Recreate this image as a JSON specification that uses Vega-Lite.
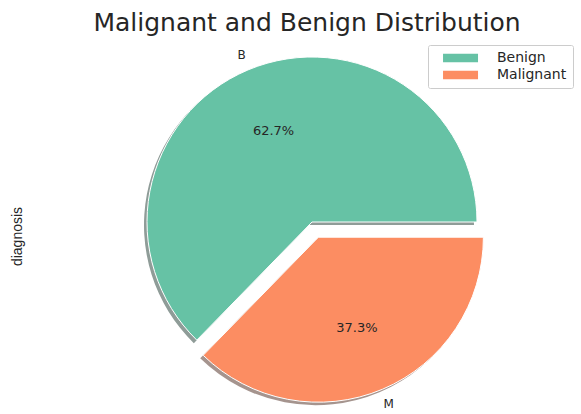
{
  "$schema": "https://vega.github.io/schema/vega-lite/v6.json",
  "autosize": "none",
  "width": 540,
  "height": 330,
  "padding": {"left": 42, "top": 57, "right": 0, "bottom": 27},
  "background": "white",
  "title": {
    "text": "Malignant and Benign Distribution",
    "font": "DejaVu Sans",
    "fontSize": 25,
    "fontWeight": "normal",
    "color": "#262626",
    "anchor": "middle",
    "frame": "group",
    "dx": -5,
    "offset": 9
  },
  "data": {
    "values": [
      {"diagnosis": "B", "share": 0.627},
      {"diagnosis": "M", "share": 0.373}
    ]
  },
  "layer": [
    {
      "mark": {"type": "arc", "outerRadius": 165, "xOffset": -3, "yOffset": 3, "fill": "#8f9c98"},
      "encoding": {
        "theta": {"field": "share", "type": "quantitative", "stack": true, "scale": {"range": [1.5708, 7.854]}},
        "order": {"field": "diagnosis", "sort": "descending"},
        "opacity": {"condition": {"test": "datum.diagnosis === 'B'", "value": 1}, "value": 0}
      }
    },
    {
      "mark": {"type": "arc", "outerRadius": 165, "xOffset": 3.4, "yOffset": 18.2, "fill": "#a5948e"},
      "encoding": {
        "theta": {"field": "share", "type": "quantitative", "stack": true, "scale": {"range": [1.5708, 7.854]}},
        "order": {"field": "diagnosis", "sort": "descending"},
        "opacity": {"condition": {"test": "datum.diagnosis === 'M'", "value": 1}, "value": 0}
      }
    },
    {
      "mark": {"type": "arc", "outerRadius": 165, "stroke": "white", "strokeWidth": 1},
      "encoding": {
        "theta": {"field": "share", "type": "quantitative", "stack": true, "scale": {"range": [1.5708, 7.854]}},
        "order": {"field": "diagnosis", "sort": "descending"},
        "color": {
          "field": "diagnosis",
          "type": "nominal",
          "scale": {"domain": ["B", "M"], "range": ["#66c2a5", "#fc8d62"]},
          "legend": {
            "title": null,
            "orient": "none",
            "legendX": 386,
            "legendY": -12,
            "labelExpr": "datum.label === 'B' ? 'Benign' : 'Malignant'",
            "symbolType": "M0.29,-0.6H5.29V0.6H0.29Z",
            "symbolSize": 196,
            "symbolStrokeWidth": 0,
            "symbolOpacity": 1,
            "labelFont": "DejaVu Sans",
            "labelFontSize": 14,
            "labelColor": "#262626",
            "labelOffset": 49,
            "rowPadding": 3,
            "padding": 6,
            "strokeColor": "#cccccc",
            "fillColor": "white",
            "cornerRadius": 2
          }
        },
        "opacity": {"condition": {"test": "datum.diagnosis === 'B'", "value": 1}, "value": 0}
      }
    },
    {
      "mark": {"type": "arc", "outerRadius": 165, "stroke": "white", "strokeWidth": 1, "xOffset": 6.4, "yOffset": 15.2},
      "encoding": {
        "theta": {"field": "share", "type": "quantitative", "stack": true, "scale": {"range": [1.5708, 7.854]}},
        "order": {"field": "diagnosis", "sort": "descending"},
        "color": {"field": "diagnosis", "type": "nominal"},
        "opacity": {"condition": {"test": "datum.diagnosis === 'M'", "value": 1}, "value": 0}
      }
    },
    {
      "mark": {"type": "text", "radius": 99, "font": "DejaVu Sans", "fontSize": 13, "color": "#262626"},
      "encoding": {
        "theta": {"field": "share", "type": "quantitative", "stack": true, "scale": {"range": [1.5708, 7.854]}},
        "order": {"field": "diagnosis", "sort": "descending"},
        "text": {"field": "share", "type": "quantitative", "format": ".1%"},
        "opacity": {"condition": {"test": "datum.diagnosis === 'B'", "value": 1}, "value": 0}
      }
    },
    {
      "mark": {"type": "text", "radius": 99, "font": "DejaVu Sans", "fontSize": 13, "color": "#262626", "xOffset": 6.4, "yOffset": 15.2},
      "encoding": {
        "theta": {"field": "share", "type": "quantitative", "stack": true, "scale": {"range": [1.5708, 7.854]}},
        "order": {"field": "diagnosis", "sort": "descending"},
        "text": {"field": "share", "type": "quantitative", "format": ".1%"},
        "opacity": {"condition": {"test": "datum.diagnosis === 'M'", "value": 1}, "value": 0}
      }
    },
    {
      "mark": {"type": "text", "radius": 181, "font": "DejaVu Sans", "fontSize": 12, "color": "#262626"},
      "encoding": {
        "theta": {"field": "share", "type": "quantitative", "stack": true, "scale": {"range": [1.5708, 7.854]}},
        "order": {"field": "diagnosis", "sort": "descending"},
        "text": {"field": "diagnosis", "type": "nominal"},
        "opacity": {"condition": {"test": "datum.diagnosis === 'B'", "value": 1}, "value": 0}
      }
    },
    {
      "mark": {"type": "text", "radius": 181, "font": "DejaVu Sans", "fontSize": 12, "color": "#262626", "xOffset": 6.4, "yOffset": 15.2},
      "encoding": {
        "theta": {"field": "share", "type": "quantitative", "stack": true, "scale": {"range": [1.5708, 7.854]}},
        "order": {"field": "diagnosis", "sort": "descending"},
        "text": {"field": "diagnosis", "type": "nominal"},
        "opacity": {"condition": {"test": "datum.diagnosis === 'M'", "value": 1}, "value": 0}
      }
    },
    {
      "mark": {"type": "point", "opacity": 0},
      "encoding": {
        "y": {
          "datum": 0,
          "type": "quantitative",
          "axis": {
            "title": "diagnosis",
            "labels": false,
            "ticks": false,
            "domain": false,
            "grid": false,
            "titleFont": "Liberation Sans",
            "titleFontSize": 14,
            "titleFontWeight": "normal",
            "titleColor": "#262626",
            "titlePadding": 18,
            "titleY": 179
          }
        }
      }
    }
  ],
  "config": {"view": {"stroke": null}}
}
